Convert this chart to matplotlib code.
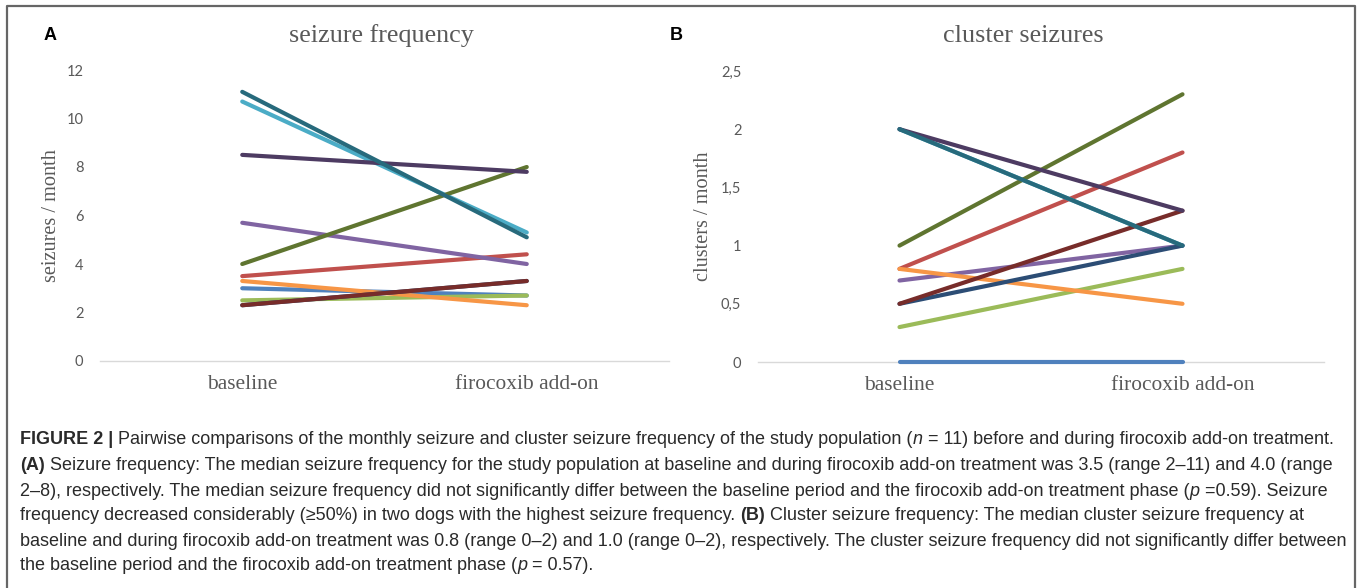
import matplotlib
matplotlib.use("Agg")
import matplotlib.pyplot as plt
from matplotlib.lines import Line2D

# ---------------- data ----------------
categories = ["baseline", "firocoxib add-on"]
series_colors = ["#4F81BD", "#C0504D", "#9BBB59", "#8064A2", "#4BACC6", "#F79646",
                 "#2C4D75", "#772C2A", "#5F7530", "#4D3B62", "#276A7C"]
# panel A: seizures / month (baseline, firocoxib add-on)
seizure_baseline = [3.0, 3.5, 2.5, 5.7, 10.7, 3.3, 2.3, 2.3, 4.0, 8.5, 11.1]
seizure_addon = [2.7, 4.4, 2.7, 4.0, 5.3, 2.3, 3.3, 3.3, 8.0, 7.8, 5.1]
# panel B: clusters / month
cluster_baseline = [0.0, 0.8, 0.3, 0.7, 2.0, 0.8, 0.5, 0.5, 1.0, 2.0, 2.0]
cluster_addon = [0.0, 1.8, 0.8, 1.0, 1.0, 0.5, 1.0, 1.3, 2.3, 1.3, 1.0]
ticks_a = [0, 2, 4, 6, 8, 10, 12]
ticklabels_a = ["0", "2", "4", "6", "8", "10", "12"]
ticks_b = [0, 0.5, 1, 1.5, 2, 2.5]
ticklabels_b = ["0", "0,5", "1", "1,5", "2", "2,5"]

W, H = 1360, 588
fig = plt.figure(figsize=(W / 100, H / 100), dpi=100)
fig.patch.set_facecolor("white")

GRAY = "#595959"
SERIF = ["Liberation Serif", "DejaVu Serif"]
TICKF = ["Lato", "DejaVu Sans"]


def px(x0, y0, x1, y1):
    # pixel box (top-left origin) -> figure fraction rect
    return [x0 / W, 1 - y1 / H, (x1 - x0) / W, (y1 - y0) / H]


def panel(rect, base, addon, ticks, ticklabels, ylim, ylabel, ylab_x):
    ax = fig.add_axes(rect)
    xpos = [0.5, 1.5]
    for b, a, c in zip(base, addon, series_colors):
        ax.plot(xpos, [b, a], color=c, lw=3.0, solid_capstyle="round",
                zorder=3, clip_on=False)
    ax.set_xlim(0, 2)
    ax.set_ylim(*ylim)
    ax.set_xticks(xpos)
    ax.set_xticklabels(categories, fontfamily=SERIF, fontsize=15.4, color=GRAY)
    ax.set_yticks(ticks)
    ax.set_yticklabels(ticklabels, fontfamily=TICKF, fontsize=10.5, color=GRAY)
    ax.tick_params(axis="both", length=0)
    ax.tick_params(axis="x", pad=10)
    ax.tick_params(axis="y", pad=12)
    for s in ["left", "right", "top"]:
        ax.spines[s].set_visible(False)
    ax.spines["bottom"].set_color("#d9d9d9")
    ax.spines["bottom"].set_linewidth(1.0)
    ax.spines["bottom"].set_zorder(1)
    ax.set_ylabel(ylabel, fontfamily=SERIF, fontsize=14.6, color=GRAY)
    ax.yaxis.set_label_coords(ylab_x, 0.5)
    ax.patch.set_alpha(0)
    return ax


panel(px(100, 70, 669, 361), seizure_baseline, seizure_addon, ticks_a, ticklabels_a,
      (0, 12), "seizures / month", -0.068)
panel(px(758, 71, 1324, 362), cluster_baseline, cluster_addon, ticks_b, ticklabels_b,
      (0, 2.5), "clusters / month", -0.079)

# titles and panel letters
fig.text(381 / W, 1 - 36 / H, "seizure frequency", ha="center", va="center",
         fontfamily=SERIF, fontsize=18.8, color=GRAY)
fig.text(1023 / W, 1 - 36 / H, "cluster seizures", ha="center", va="center",
         fontfamily=SERIF, fontsize=18.8, color=GRAY)
fig.text(44 / W, 1 - 35 / H, "A", ha="left", va="center", fontfamily="Liberation Sans",
         fontweight="bold", fontsize=13, color="black")
fig.text(670 / W, 1 - 35 / H, "B", ha="left", va="center", fontfamily="Liberation Sans",
         fontweight="bold", fontsize=13, color="black")

# outer frame (open at the bottom)
frame = Line2D([7 / W, 7 / W, 1355 / W, 1355 / W], [0, 1 - 6 / H, 1 - 6 / H, 0],
               transform=fig.transFigure, color="#666666", lw=1.6)
fig.add_artist(frame)

# caption
caption = [
    [("FIGURE 2 | ", "bold", "normal"),
     ("Pairwise comparisons of the monthly seizure and cluster seizure frequency of the study population (", "normal", "normal"),
     ("n", "normal", "italic"),
     (" = 11) before and during firocoxib add-on treatment.", "normal", "normal")],
    [("(A)", "bold", "normal"),
     (" Seizure frequency: The median seizure frequency for the study population at baseline and during firocoxib add-on treatment was 3.5 (range 2\u201311) and 4.0 (range", "normal", "normal")],
    [("2\u20138), respectively. The median seizure frequency did not significantly differ between the baseline period and the firocoxib add-on treatment phase (", "normal", "normal"),
     ("p", "normal", "italic"),
     (" =0.59). Seizure", "normal", "normal")],
    [("frequency decreased considerably (\u226550%) in two dogs with the highest seizure frequency. ", "normal", "normal"),
     ("(B)", "bold", "normal"),
     (" Cluster seizure frequency: The median cluster seizure frequency at", "normal", "normal")],
    [("baseline and during firocoxib add-on treatment was 0.8 (range 0\u20132) and 1.0 (range 0\u20132), respectively. The cluster seizure frequency did not significantly differ between", "normal", "normal")],
    [("the baseline period and the firocoxib add-on treatment phase (", "normal", "normal"),
     ("p", "normal", "italic"),
     (" = 0.57).", "normal", "normal")],
]
line_y = [440, 466, 491, 516, 541, 566]
CAPF = ["Liberation Sans", "DejaVu Sans"]
CAPC = "#2a2a2a"
renderer = fig.canvas.get_renderer()


def line_width(runs, size):
    total = 0
    for txt, wt, st in runs:
        t = fig.text(0, 0, txt, fontsize=size, fontweight=wt, fontstyle=st, fontfamily=CAPF)
        total += t.get_window_extent(renderer).width
        t.remove()
    return total


base = 10.0
w0 = line_width(caption[0], base)
cap_size = base * (1338 - 20) / w0

for runs, y in zip(caption, line_y):
    x = 20
    for txt, wt, st in runs:
        t = fig.text(x / W, 1 - y / H, txt, fontsize=cap_size, fontweight=wt, fontstyle=st,
                     fontfamily=CAPF, color=CAPC, ha="left", va="center")
        x += t.get_window_extent(renderer).width

fig.savefig("out.png", dpi=100, facecolor="white")
